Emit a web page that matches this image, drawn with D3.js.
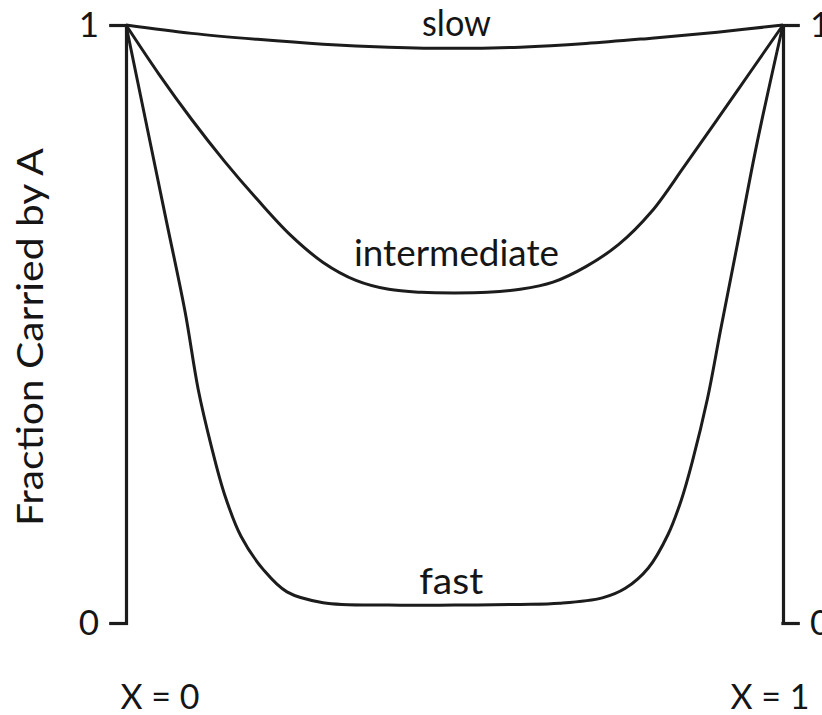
<!DOCTYPE html>
<html>
<head>
<meta charset="utf-8">
<script src="https://cdn.jsdelivr.net/npm/d3@7"></script>
<style>
  html, body { margin: 0; padding: 0; background: #fff; }
  svg { display: block; }
  text { font-family: Lato, "Open Sans", sans-serif; fill: #151515; }
</style>
</head>
<body>
<svg id="chart" width="822" height="715"></svg>
<script>
// ---- data ----
const seriesNames = ["slow", "intermediate", "fast"];
const slowX = [0, 0.1, 0.2, 0.3, 0.4, 0.5, 0.6, 0.7, 0.8, 0.9, 1];
const slowY = [1, 0.986, 0.976, 0.968, 0.963, 0.961, 0.963, 0.969, 0.978, 0.988, 1];
const interX = [0, 0.05, 0.1, 0.15, 0.2, 0.25, 0.3, 0.35, 0.4, 0.45, 0.5, 0.55, 0.6, 0.65, 0.7, 0.75, 0.8, 0.85, 0.9, 0.95, 1];
const interY = [1, 0.918, 0.842, 0.772, 0.708, 0.649, 0.603, 0.573, 0.558, 0.553, 0.552, 0.553, 0.558, 0.570, 0.596, 0.633, 0.688, 0.764, 0.842, 0.921, 1];
const fastX = [0, 0.03, 0.06, 0.09, 0.11, 0.13, 0.15, 0.175, 0.21, 0.245, 0.3, 0.4, 0.5, 0.6, 0.66, 0.725, 0.76, 0.795, 0.825, 0.845, 0.862, 0.885, 0.905, 0.93, 0.96, 1];
const fastY = [1, 0.84, 0.68, 0.52, 0.39, 0.295, 0.215, 0.145, 0.088, 0.052, 0.034, 0.030, 0.030, 0.031, 0.033, 0.042, 0.058, 0.092, 0.148, 0.205, 0.27, 0.375, 0.49, 0.63, 0.80, 1];
const yTickValues = [0, 1];
const yTickLabels = ["0", "1"];
const xTickValues = [0, 1];
const xTickLabels = ["X = 0", "X = 1"];
const yAxisTitle = "Fraction  Carried  by  A";

// ---- layout ----
const svg = d3.select("#chart");
const x = d3.scaleLinear().domain([0, 1]).range([126, 783]);
const y = d3.scaleLinear().domain([0, 1]).range([623, 25]);
const ink = "#1c1c1c";

const series = [
  { name: seriesNames[0], pts: slowX.map((v, i) => [v, slowY[i]]), lx: 0.503, ly: 36, w: 69 },
  { name: seriesNames[1], pts: interX.map((v, i) => [v, interY[i]]), lx: 0.503, ly: 266, w: 205 },
  { name: seriesNames[2], pts: fastX.map((v, i) => [v, fastY[i]]), lx: 0.495, ly: 594, w: 64 }
];

// axes (vertical frame lines + ticks)
const fmtY = d => yTickLabels[yTickValues.indexOf(d)];
const left = svg.append("g")
  .call(d3.axisLeft(y).tickValues(yTickValues).tickSize(15).tickSizeOuter(15).tickPadding(12).tickFormat(fmtY))
  .attr("transform", `translate(${x(0)},0)`);
const right = svg.append("g")
  .call(d3.axisRight(y).tickValues(yTickValues).tickSize(15).tickSizeOuter(15).tickPadding(12).tickFormat(fmtY))
  .attr("transform", `translate(${x(1)},0)`);
[left, right].forEach(g => {
  g.selectAll("path, line").attr("stroke", ink).attr("stroke-width", 3.2).attr("stroke-linecap", "square");
  g.selectAll("text").attr("font-size", 35).attr("font-family", "Lato, sans-serif").attr("fill", "#151515").attr("font-weight", 400);
});

// curves
const line = d3.line().x(d => x(d[0])).y(d => y(d[1])).curve(d3.curveCatmullRom.alpha(0.5));
svg.append("g").selectAll("path").data(series).join("path")
  .attr("d", d => line(d.pts))
  .attr("fill", "none")
  .attr("stroke", ink)
  .attr("stroke-width", 3)
  .attr("stroke-linejoin", "round");

// curve labels
svg.append("g").selectAll("text").data(series).join("text")
  .attr("x", d => x(d.lx))
  .attr("y", d => d.ly)
  .attr("text-anchor", "middle")
  .attr("font-size", 36)
  .attr("textLength", d => d.w)
  .attr("lengthAdjust", "spacingAndGlyphs")
  .text(d => d.name);

// x labels
svg.append("g").selectAll("text").data(xTickValues).join("text")
  .attr("x", (d, i) => x(d) + (i === 0 ? 34 : -13))
  .attr("y", 709)
  .attr("text-anchor", "middle")
  .attr("font-size", 34)
  .text((d, i) => xTickLabels[i]);

// y axis title
svg.append("text")
  .attr("transform", `translate(43,${(y(0) + y(1)) / 2 + 13}) rotate(-90)`)
  .attr("text-anchor", "middle")
  .attr("font-size", 37)
  .attr("textLength", 378)
  .attr("lengthAdjust", "spacingAndGlyphs")
  .text(yAxisTitle);
</script>
</body>
</html>
